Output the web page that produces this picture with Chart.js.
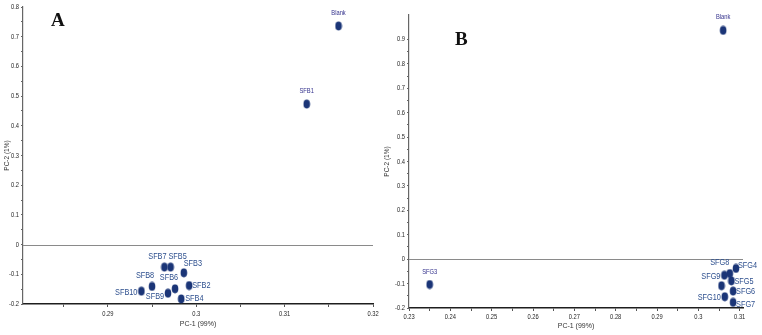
<!DOCTYPE html>
<html>
<head>
<meta charset="utf-8">
<script src="https://cdn.jsdelivr.net/npm/chart.js@4.4.1/dist/chart.umd.min.js"></script>
<style>
  html,body{margin:0;padding:0;background:#fff;}
  #wrap{position:relative;width:762px;height:335px;overflow:hidden;}
  canvas{position:absolute;top:0;}
  #cA{left:0;}
  #cB{left:380px;}
  .panel{position:absolute;font-family:'Liberation Serif','DejaVu Serif',serif;font-weight:bold;font-size:19px;color:#111;line-height:1;}
</style>
</head>
<body>
<div id="wrap">
  <canvas id="cA" width="380" height="335"></canvas>
  <canvas id="cB" width="382" height="335"></canvas>
  <div class="panel" style="left:51px;top:10px;">A</div>
  <div class="panel" style="left:455px;top:29px;">B</div>
</div>
<script>
// ---------------- DATA ----------------
// Panel A
const namesA = ['Blank','SFB1','SFB2','SFB3','SFB4','SFB5','SFB6','SFB7','SFB8','SFB9','SFB10'];
const pc1A   = [0.3161, 0.3125, 0.2992, 0.2986, 0.2983, 0.2971, 0.2976, 0.2964, 0.2950, 0.2968, 0.2938];
const pc2A   = [0.736, 0.473, -0.138, -0.095, -0.183, -0.076, -0.149, -0.076, -0.141, -0.164, -0.157];
const placeA = ['top','top','r','tr2','r2','tr','tl2','tl','tl','bl','l'];
const xTicksA = [0.29, 0.30, 0.31, 0.32];
const yTicksA = [-0.2,-0.1,0,0.1,0.2,0.3,0.4,0.5,0.6,0.7,0.8];

// Panel B
const namesB = ['Blank','SFG3','SFG4','SFG5','SFG6','SFG7','SFG8','SFG9','SFG10',''];
const pc1B   = [0.3060, 0.2350, 0.3091, 0.3080, 0.3084, 0.3084, 0.3076, 0.3063, 0.3064, 0.3056];
const pc2B   = [0.937, -0.104, -0.038, -0.089, -0.131, -0.177, -0.059, -0.066, -0.154, -0.109];
const placeB = ['top','top','r3','r','r','r4','tl3','l','l',''];
const xTicksB = [0.23,0.24,0.25,0.26,0.27,0.28,0.29,0.30,0.31];
const yTicksB = [-0.2,-0.1,0,0.1,0.2,0.3,0.4,0.5,0.6,0.7,0.8,0.9];

const xTitle = 'PC-1 (99%)';
const yTitle = 'PC-2 (1%)';

// ---------------- STYLE ----------------
const SANS = "'Liberation Sans','Arial',sans-serif";
const DOT_COLOR = '#1b3577';
const SQUEEZE = 0.77;

function makeDot(){
  const c = document.createElement('canvas');
  c.width = 8; c.height = 10;
  const g = c.getContext('2d');
  g.fillStyle = DOT_COLOR;
  g.beginPath();
  g.ellipse(4, 5, 3.3, 4.4, 0, 0, Math.PI*2);
  g.fill();
  return c;
}
const dotImg = makeDot();

function narrowText(ctx, text, x, y, align){
  ctx.save();
  ctx.translate(x, y);
  ctx.scale(SQUEEZE, 1);
  ctx.textAlign = align;
  ctx.fillText(text, 0, 0);
  ctx.restore();
}

// label placement presets: [dx, dy, align, kind]
const PLACE = {
  top: [0,-13,'center','small'],
  tl:  [-7,-11,'center','big'],
  tl2: [-6,-11,'center','big'],
  tl3: [-10,-11,'center','big'],
  tr:  [7,-11,'center','big'],
  tr2: [9,-9,'center','big'],
  r:   [3,0,'left','big'],
  r2:  [4,-1,'left','big'],
  r3:  [2,-3,'left','big'],
  r4:  [3,2,'left','big'],
  l:   [-4,1,'right','big'],
  bl:  [-13,3,'center','big']
};

const labelPlugin = {
  id:'ptLabels',
  afterDatasetsDraw(chart, args, opts){
    const ctx = chart.ctx;
    const meta = chart.getDatasetMeta(0);
    ctx.save();
    ctx.textBaseline = 'middle';
    meta.data.forEach((el, i) => {
      const name = opts.names[i];
      const p = PLACE[opts.places[i]];
      if (!name || !p) return;
      if (p[3] === 'small') {
        ctx.font = "7.5px " + SANS;
        ctx.fillStyle = '#33318c';
      } else {
        ctx.font = "9.5px " + SANS;
        ctx.fillStyle = '#2d4f8e';
      }
      narrowText(ctx, name, el.x + p[0], el.y + p[1], p[2]);
    });
    ctx.restore();
  }
};

// tick labels, positioned by the chart's own scales
const tickLabels = {
  id:'tickLabels',
  afterDraw(chart, args, opts){
    const ctx = chart.ctx;
    const {x, y} = chart.scales;
    ctx.save();
    ctx.fillStyle = '#262626';
    ctx.font = "7.5px " + SANS;
    ctx.textBaseline = 'middle';
    opts.xTicks.forEach(v => {
      narrowText(ctx, fmt(v), x.getPixelForValue(v), x.top + opts.xOff, 'center');
    });
    opts.yTicks.forEach(v => {
      narrowText(ctx, fmt(v), y.right - 4, y.getPixelForValue(v), 'right');
    });
    ctx.restore();
  }
};

const zeroLine = {
  id:'zeroLine',
  beforeDatasetsDraw(chart){
    const {ctx, chartArea:a, scales:{y}} = chart;
    const yy = Math.round(y.getPixelForValue(0)) + 0.5;
    ctx.save();
    ctx.strokeStyle = '#8a8a8a';
    ctx.lineWidth = 1;
    ctx.beginPath();
    ctx.moveTo(a.left, yy);
    ctx.lineTo(a.right, yy);
    ctx.stroke();
    ctx.restore();
  }
};

function fmt(v){ return String(Number(v.toFixed(3))); }

function withMinor(major, lead){
  const step = (major[1]-major[0])/2;
  const out = major.slice();
  for (let i=0;i<major.length-1;i++) out.push(+(major[i] + step).toFixed(4));
  if (lead) out.push(+(major[0] - step).toFixed(4));
  return out.sort((a,b)=>a-b);
}

function makeChart(canvasId, names, xs, ys, places, xTicks, yTicks, cfg){
  const xAll = withMinor(xTicks, cfg.xLeadMinor);
  const yAll = withMinor(yTicks, false);
  return new Chart(document.getElementById(canvasId), {
    type:'scatter',
    data:{ datasets:[{
      data: xs.map((x,i)=>({x:x, y:ys[i]})),
      pointStyle: dotImg,
      pointRadius: 4,
      pointHoverRadius: 4
    }]},
    options:{
      responsive:false,
      animation:false,
      events:[],
      layout:{ padding: cfg.padding },
      plugins:{
        legend:{display:false},
        tooltip:{enabled:false},
        ptLabels:{ names:names, places:places },
        tickLabels:{ xTicks:xTicks, yTicks:yTicks, xOff:cfg.xOff }
      },
      scales:{
        x:{
          type:'linear', min:cfg.xMin, max:cfg.xMax,
          afterBuildTicks: s => { s.ticks = xAll.map(v=>({value:v})); },
          afterFit: s => { s.height = cfg.xH; },
          ticks:{ display:false },
          grid:{ drawOnChartArea:false, drawTicks:true, tickLength:3, color:'#555' },
          border:{ display:true, color:'#1e1e1e', width:1.6 },
          title:{ display:true, text:xTitle, color:'#333', padding:0, font:{size:7, family:SANS} }
        },
        y:{
          type:'linear', min:cfg.yMin, max:cfg.yMax,
          afterBuildTicks: s => { s.ticks = yAll.map(v=>({value:v})); },
          afterFit: s => { s.width = cfg.yW; },
          ticks:{ display:false },
          grid:{ drawOnChartArea:false, drawTicks:true, tickLength:2, color:'#666' },
          border:{ display:true, color:'#666', width:1.2 },
          title:{ display:true, text:yTitle, color:'#333', padding:0, font:{size:6.5, family:SANS} }
        }
      }
    },
    plugins:[zeroLine, labelPlugin, tickLabels]
  });
}

makeChart('cA', namesA, pc1A, pc2A, placeA, xTicksA, yTicksA, {
  xMin:0.2804, xMax:0.32, yMin:-0.2, yMax:0.8,
  padding:{top:7, right:7, left:3, bottom:7},
  xH:24, yW:20, xOff:10, xLeadMinor:true
});

makeChart('cB', namesB, pc1B, pc2B, placeB, xTicksB, yTicksB, {
  xMin:0.23, xMax:0.3108, yMin:-0.2, yMax:1.0,
  padding:{top:15, right:19, left:3, bottom:5},
  xH:22, yW:26, xOff:9, xLeadMinor:false
});
</script>
</body>
</html>
